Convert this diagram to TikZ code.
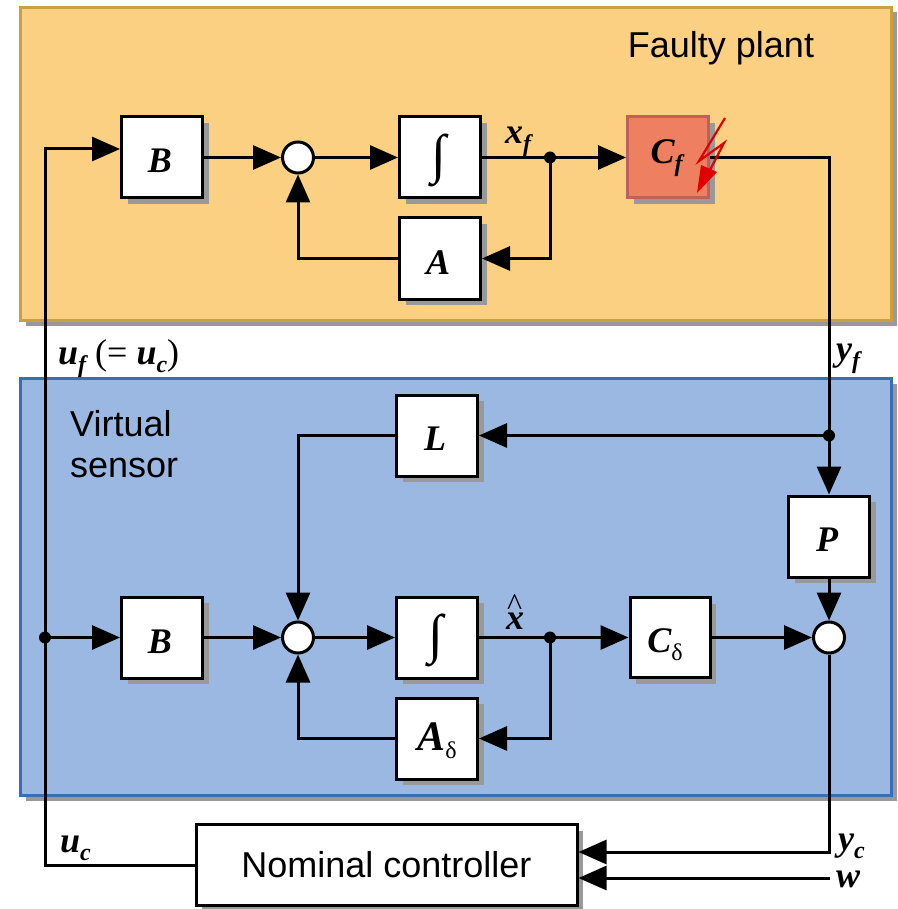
\documentclass[tikz,border=0pt]{standalone}
\usepackage{fontspec}
\setmainfont{Liberation Sans}
\newfontfamily\serifmain{Liberation Serif}
\usetikzlibrary{arrows.meta,shadows,calc}
\definecolor{plantfill}{HTML}{FBD083}
\definecolor{plantedge}{HTML}{C9A040}
\definecolor{sensorfill}{HTML}{9AB8E2}
\definecolor{sensoredge}{HTML}{3A6DB5}
\definecolor{faultfill}{HTML}{EE7F60}
\definecolor{faultedge}{HTML}{C0605A}
\definecolor{shadowgray}{HTML}{999999}
\definecolor{boltred}{HTML}{E00000}
\newcommand{\bv}[1]{{\serifmain\fontsize{36}{36}\selectfont\bfseries\itshape #1}}
\newcommand{\bvl}[1]{{\serifmain\fontsize{42}{42}\selectfont\bfseries\itshape #1}}
\newcommand{\bsub}[1]{\raisebox{-8pt}{\serifmain\fontsize{24}{24}\selectfont\bfseries\itshape #1}}
\newcommand{\rsub}[1]{\raisebox{-8pt}{\serifmain\fontsize{24}{24}\selectfont #1}}
\newcommand{\rg}[1]{{\serifmain\fontsize{36}{36}\selectfont #1}}
\newcommand{\inbox}[3]{\raisebox{-#1pt}[0pt][0pt]{#3}\kern#2pt}
\newcommand{\integ}{{\serifmain\fontsize{54}{54}\selectfont ∫}}
\tikzset{
  x=1pt,y=-1pt,
  lin/.style={line width=3pt,draw=black},
  arr/.style={lin,-{Triangle[length=28pt,width=24pt]}},
  boxshadow/.style={general shadow={shadow xshift=6pt,shadow yshift=-6pt,fill=shadowgray,draw=none}},
  block/.style={draw=black,line width=3pt,fill=white,minimum width=81pt,minimum height=81pt,inner sep=0pt,boxshadow},
  panel/.style={line width=3pt,inner sep=0pt,general shadow={shadow xshift=5pt,shadow yshift=-5pt,fill=shadowgray,draw=none}},
  sumpt/.style={circle,draw=black,line width=3pt,fill=white,minimum size=31pt,inner sep=0pt},
  dotpt/.style={circle,fill=black,minimum size=12pt,inner sep=0pt},
  lab/.style={inner sep=0pt,anchor=base west},
  title/.style={inner sep=0pt,font=\fontsize{36}{41}\selectfont},
}
\begin{document}
\begin{tikzpicture}
\useasboundingbox (0,0) rectangle (897,909);
% panels
\node[panel,draw=plantedge,fill=plantfill,minimum width=871pt,minimum height=313pt] (plant) at (456,164) {};
\node[panel,draw=sensoredge,fill=sensorfill,minimum width=871pt,minimum height=417pt] (sensor) at (456,587) {};
% coordinates
\coordinate (lefttop) at (45,149);
\coordinate (fout) at (829,157.5);
\coordinate (wend) at (830,878);
\coordinate (lcorner) at (298,435.5);
% nodes
\node[block] (B1) at (162,157.5) {\inbox{15.5}{4}{\bv{B}}};
\node[sumpt] (S1) at (298,157.5) {};
\node[block] (I1) at (440,157.5) {\inbox{15}{2}{\integ}};
\node[block] (A1) at (440,258.5) {\inbox{15.5}{4}{\bv{A}}};
\node[block,draw=faultedge,fill=faultfill] (Cf) at (668,157.5) {\inbox{6}{3}{\bv{C}\bsub{f}}};
\node[block] (L) at (437,435.5) {\inbox{14.5}{4}{\bv{L}}};
\node[block] (P) at (829,536.5) {\inbox{14.5}{4}{\bv{P}}};
\node[block] (B2) at (162,637.5) {\inbox{15.5}{4}{\bv{B}}};
\node[sumpt] (S2) at (298,637.5) {};
\node[block] (I2) at (437,637.5) {\inbox{15}{2}{\integ}};
\node[block] (A2) at (437,738.5) {\inbox{11.5}{0}{\bvl{A}\rsub{δ}}};
\node[block,minimum width=80pt,minimum height=80pt] (Cd) at (670,637.5) {\inbox{14.5}{10}{\bv{C}\rsub{δ}}};
\node[sumpt] (S3) at (829,637.5) {};
\node[dotpt] (J1) at (550,157.5) {};
\node[dotpt] (J2) at (550,637.5) {};
\node[dotpt] (J3) at (829,435.5) {};
\node[dotpt] (J4) at (45,637.5) {};
\node[block,minimum width=381pt,minimum height=81pt] (ctrl) at (386.5,865) {\fontsize{36}{41}\selectfont Nominal controller};
% connectors
\draw[arr] (ctrl.west) -| (lefttop) -- (lefttop -| B1.west);
\draw[arr] (B1.east) -- (S1.west);
\draw[arr] (S1.east) -- (I1.west);
\draw[lin] (I1.east) -- (J1.center);
\draw[arr] (J1.center) -- (Cf.west);
\draw[arr] (J1.center) |- (A1.east);
\draw[arr] (A1.west) -| (S1.south);
\draw[arr] (Cf.east) -- (fout) -- (P.north);
\draw[arr] (J3.center) -- (L.east);
\draw[arr] (L.west) -- (lcorner) -- (S2.north);
\draw[arr] (J4.center) -- (B2.west);
\draw[arr] (B2.east) -- (S2.west);
\draw[arr] (S2.east) -- (I2.west);
\draw[lin] (I2.east) -- (J2.center);
\draw[arr] (J2.center) -- (Cd.west);
\draw[arr] (J2.center) |- (A2.east);
\draw[arr] (A2.west) -| (S2.south);
\draw[arr] (Cd.east) -- (S3.west);
\draw[arr] (P.south) -- (S3.north);
\draw[arr] (S3.south) |- ($(ctrl.east)+(0,-13)$);
\draw[arr] (wend) -- (wend -| ctrl.east);
% fault bolt
\draw[boltred,line width=2.2pt,line join=miter] (725,118) -- (699,161) -- (724,143) -- (710,170);
\fill[boltred] (697,193) -- (701,165) -- (717,172) -- cycle;
% labels
\node[title] (t1) at (721,48) {Faulty plant};
\node[title,align=left,anchor=north west] (t2) at (70,410) {Virtual\\sensor};
\node[lab] (lxf) at (505,144) {\bv{x}\bsub{f}};
\node[lab] (lxh) at (506,629) {\bv{x}\llap{\raisebox{14pt}{\serifmain\fontsize{32}{32}\selectfont\textasciicircum}\kern2pt}};
\node[lab] (luf) at (58,364) {\bv{u}\bsub{f}\rg{ (= }\bv{u}\bsub{c}\rg{)}};
\node[lab] (lyf) at (836,360) {\bv{y}\bsub{f}};
\node[lab] (luc) at (60,852) {\bv{u}\bsub{c}};
\node[lab] (lyc) at (838,850) {\bv{y}\bsub{c}};
\node[lab] (lw) at (836,887) {\bv{w}};
\end{tikzpicture}
\end{document}
